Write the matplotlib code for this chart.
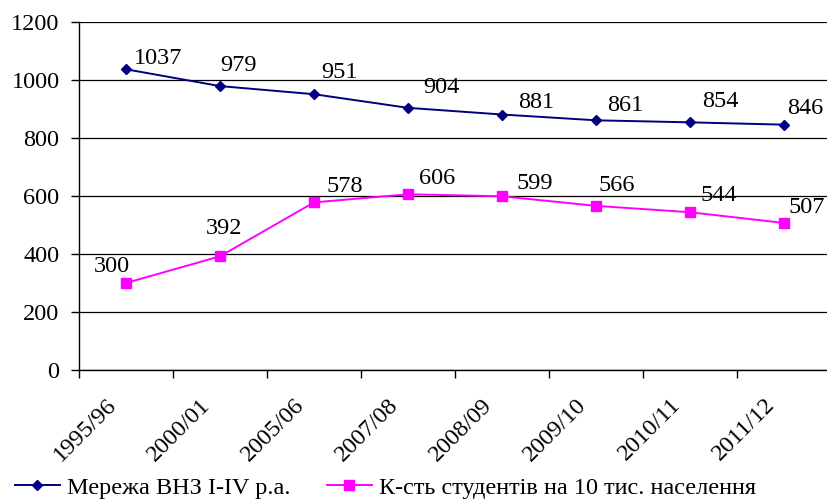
import matplotlib
matplotlib.use("Agg")
import matplotlib.pyplot as plt
from matplotlib.transforms import ScaledTranslation
from matplotlib.lines import Line2D

categories = ["1995/96", "2000/01", "2005/06", "2007/08", "2008/09", "2009/10", "2010/11", "2011/12"]
network = [1037, 979, 951, 904, 881, 861, 854, 846]
students = [300, 392, 578, 606, 599, 566, 544, 507]
series_names = ["Мережа ВНЗ І-ІV р.а.", "К-сть студентів на 10 тис. населення"]

# label placement (pixel offsets of label left/baseline from its point)
net_offsets = [(8, 5), (0, 15), (7, 16), (15, 15), (16, 7), (11, 9), (12, 15), (3, 11)]
stu_offsets = [(-32, 11), (-14, 22), (13, 10), (11, 10), (14, 7), (3, 15), (11, 11), (4, 10)]

plt.rcParams['font.family'] = ['Liberation Serif', 'DejaVu Serif']
fs = 17.5

fig = plt.figure(figsize=(8.27, 5.0), dpi=100)
ax = fig.add_axes([79/827, 130/500, 752/827, 348/500])

x = list(range(len(categories)))
ax.plot(x, network, color='#000080', marker='D', markersize=5.4, linewidth=1.4, clip_on=False)
ax.plot(x, students, color='#FF00FF', marker='s', markersize=6.5, linewidth=1.4, clip_on=False)

for xi, v, (dx, dy) in zip(x, network, net_offsets):
    ax.annotate(str(v), (xi, v), xytext=(dx, dy), textcoords='offset pixels', ha='left', va='baseline', fontsize=fs)
for xi, v, (dx, dy) in zip(x, students, stu_offsets):
    ax.annotate(str(v), (xi, v), xytext=(dx, dy), textcoords='offset pixels', ha='left', va='baseline', fontsize=fs)

ax.set_xlim(-0.5, 7.5)
ax.set_ylim(0, 1200)
ax.set_yticks(range(0, 1201, 200))
ax.yaxis.grid(True, color='#000000', linewidth=0.9)
ax.set_axisbelow(True)
ax.tick_params(axis='y', labelsize=fs, length=6, direction='out', width=1, pad=8)

ax.set_xticks(x)
ax.set_xticklabels(categories, rotation=45, ha='right', va='top', rotation_mode='anchor', fontsize=fs)
ax.tick_params(axis='x', which='major', length=0, pad=17.5)
offset = ScaledTranslation(-20/100, 0, fig.dpi_scale_trans)
for lbl in ax.get_xticklabels():
    lbl.set_transform(lbl.get_transform() + offset)
ax.set_xticks([i - 0.5 for i in range(len(categories) + 1)], minor=True)
ax.tick_params(axis='x', which='minor', length=6, width=1, direction='out')

for s in ['top', 'right']:
    ax.spines[s].set_visible(False)
ax.spines['left'].set_linewidth(1)
ax.spines['bottom'].set_linewidth(1)

handles = [Line2D([], [], color='#000080', marker='D', markersize=5.4, linewidth=1.4),
           Line2D([], [], color='#FF00FF', marker='s', markersize=6.5, linewidth=1.4)]
fig.legend(handles, series_names, loc='lower left', bbox_to_anchor=(0.0, -0.027), ncol=2, frameon=False, fontsize=fs,
           handlelength=1.85, columnspacing=1.5, handletextpad=0.3, borderaxespad=0.2)

fig.savefig("out.png", dpi=100)
